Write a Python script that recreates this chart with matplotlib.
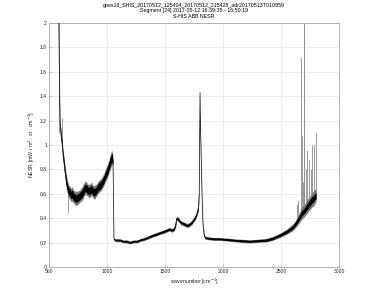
import matplotlib
matplotlib.use("Agg")
import matplotlib.pyplot as plt

plt.rcParams['font.family'] = ['Liberation Sans', 'DejaVu Sans']

# ---- data ----
title_lines = ["goes16_SHIS_20170512_125404_20170512_215428_adr20170513T010959",
               "Segment [24] 2017-05-12 16:39:35 - 16:50:19",
               "S-HIS ABB NESR"]

# band 1 (longwave)
b1_wn    = [584, 588, 592, 596, 600, 606, 612, 618, 623, 630, 638, 645, 649, 655, 662, 670, 680, 690, 698, 710,
            720, 730, 741, 752, 763, 773, 784, 795, 805, 813, 825, 835, 846, 856, 868, 878, 889, 899, 910, 920,
            931, 942, 953, 963, 975, 985, 995, 1005, 1015, 1025, 1031, 1037, 1043, 1048, 1051]
b1_mid   = [2.05, 1.70, 1.35, 1.18, 1.12, 1.06, 1.02, 0.95, 0.90, 0.85, 0.78, 0.73, 0.70, 0.67, 0.64, 0.62, 0.61, 0.59, 0.60, 0.58,
            0.57, 0.56, 0.565, 0.57, 0.58, 0.59, 0.60, 0.62, 0.64, 0.65, 0.64, 0.63, 0.62, 0.63, 0.64, 0.62, 0.61, 0.62, 0.63, 0.65,
            0.66, 0.67, 0.68, 0.70, 0.72, 0.75, 0.77, 0.79, 0.82, 0.85, 0.87, 0.89, 0.90, 0.88, 0.86]
b1_core  = [0.00, 0.015, 0.02, 0.02, 0.02, 0.02, 0.02, 0.022, 0.025, 0.025, 0.025, 0.025, 0.028, 0.028, 0.03, 0.03, 0.032, 0.03, 0.032, 0.03,
            0.032, 0.03, 0.032, 0.032, 0.03, 0.032, 0.03, 0.032, 0.03, 0.03, 0.032, 0.03, 0.03, 0.032, 0.03, 0.03, 0.032, 0.03, 0.03, 0.03,
            0.03, 0.03, 0.03, 0.03, 0.03, 0.03, 0.03, 0.032, 0.032, 0.035, 0.035, 0.035, 0.035, 0.03, 0.02]
b1_outer = [0.00, 0.03, 0.035, 0.035, 0.035, 0.035, 0.035, 0.04, 0.045, 0.045, 0.045, 0.05, 0.055, 0.055, 0.055, 0.05, 0.055, 0.055, 0.06, 0.055,
            0.055, 0.06, 0.055, 0.055, 0.05, 0.055, 0.055, 0.06, 0.055, 0.055, 0.055, 0.05, 0.055, 0.055, 0.055, 0.05, 0.055, 0.055, 0.05, 0.05,
            0.05, 0.05, 0.05, 0.05, 0.05, 0.05, 0.055, 0.055, 0.055, 0.06, 0.06, 0.06, 0.055, 0.045, 0.03]

# bands 2 and 3 (mid / shortwave)
b2_wn    = [1052, 1060, 1069, 1090, 1112, 1140, 1170, 1198, 1230, 1260, 1284, 1320, 1350, 1371, 1400, 1430, 1457, 1490, 1514,
            1540, 1558, 1578, 1590, 1601, 1615, 1630, 1644, 1670, 1690, 1715, 1735, 1758, 1772, 1787, 1795, 1802, 1806, 1810,
            1815, 1819, 1827, 1836, 1845, 1880, 1920, 1974, 2030, 2086, 2150, 2233, 2300, 2377, 2430, 2491, 2520, 2549, 2580,
            2606, 2630, 2646, 2662, 2678, 2700, 2721, 2745, 2765, 2780, 2793, 2802]
b2_mid   = [0.86, 0.23, 0.22, 0.22, 0.22, 0.21, 0.21, 0.20, 0.21, 0.21, 0.22, 0.23, 0.24, 0.25, 0.26, 0.27, 0.28, 0.29, 0.30,
            0.31, 0.30, 0.31, 0.34, 0.40, 0.39, 0.37, 0.36, 0.35, 0.34, 0.35, 0.37, 0.40, 0.43, 0.48, 0.60, 1.43, 1.15, 0.99,
            0.78, 0.60, 0.36, 0.27, 0.24, 0.235, 0.23, 0.23, 0.225, 0.22, 0.215, 0.21, 0.215, 0.22, 0.235, 0.26, 0.275, 0.29, 0.31,
            0.33, 0.36, 0.385, 0.41, 0.44, 0.46, 0.49, 0.52, 0.55, 0.56, 0.58, 0.58]
b2_core  = [0.00, 0.006, 0.006, 0.007, 0.006, 0.006, 0.007, 0.006, 0.006, 0.006, 0.006, 0.006, 0.007, 0.007, 0.007, 0.007, 0.007, 0.008, 0.008,
            0.008, 0.008, 0.008, 0.008, 0.009, 0.009, 0.009, 0.009, 0.009, 0.009, 0.009, 0.01, 0.01, 0.01, 0.012, 0.012, 0.00, 0.006, 0.006,
            0.006, 0.006, 0.007, 0.007, 0.007, 0.007, 0.007, 0.007, 0.007, 0.007, 0.008, 0.008, 0.008, 0.009, 0.01, 0.01, 0.011, 0.012, 0.013,
            0.015, 0.017, 0.018, 0.02, 0.022, 0.022, 0.025, 0.025, 0.027, 0.027, 0.027, 0.02]
b2_outer = [0.00, 0.012, 0.012, 0.013, 0.012, 0.012, 0.013, 0.012, 0.012, 0.013, 0.012, 0.013, 0.013, 0.013, 0.014, 0.014, 0.014, 0.015, 0.015,
            0.015, 0.015, 0.015, 0.015, 0.017, 0.017, 0.017, 0.017, 0.017, 0.017, 0.017, 0.018, 0.018, 0.018, 0.02, 0.02, 0.00, 0.01, 0.01,
            0.01, 0.01, 0.012, 0.012, 0.012, 0.012, 0.012, 0.012, 0.012, 0.012, 0.013, 0.013, 0.013, 0.015, 0.016, 0.018, 0.02, 0.022, 0.025,
            0.028, 0.032, 0.036, 0.042, 0.05, 0.05, 0.055, 0.055, 0.06, 0.06, 0.06, 0.045]

# isolated spikes (wavenumber, top, bottom)
spike_wn  = [584, 609, 664, 2635, 2650, 2672, 2678, 2690, 2698, 2701, 2712, 2727, 2744, 2755, 2764, 2784, 2801]
spike_top = [2.05, 1.22, 0.63, 0.52, 0.55, 1.72, 1.07, 0.70, 2.05, 2.05, 0.80, 0.96, 0.88, 0.80, 1.00, 1.00, 1.10]
spike_bot = [1.10, 1.00, 0.44, 0.36, 0.37, 0.42, 0.42, 0.42, 0.43, 0.43, 0.44, 0.47, 0.49, 0.50, 0.52, 0.54, 0.56]

xticks = [500, 1000, 1500, 2000, 2500, 3000]
yticks = [0, 0.2, 0.4, 0.6, 0.8, 1, 1.2, 1.4, 1.6, 1.8, 2]
ytick_labels = ["0", "0.2", "0.4", "0.6", "0.8", "1", "1.2", "1.4", "1.6", "1.8", "2"]

# ---- figure ----
W, H = 375, 301
fig = plt.figure(figsize=(W / 100, H / 100), dpi=100)
ax = fig.add_axes([49 / W, 1 - 267 / H, 290 / W, 244 / H])

axis_gray = '#a6a6a6'
txt_gray = '#262626'

for wn, mid, core, outer in [(b1_wn, b1_mid, b1_core, b1_outer), (b2_wn, b2_mid, b2_core, b2_outer)]:
    lo_o = [m - o for m, o in zip(mid, outer)]
    hi_o = [m + o for m, o in zip(mid, outer)]
    lo_c = [m - c for m, c in zip(mid, core)]
    hi_c = [m + c for m, c in zip(mid, core)]
    ax.fill_between(wn, lo_o, hi_o, color='#7a7a7a', linewidth=0, zorder=2)
    ax.fill_between(wn, lo_c, hi_c, color='black', linewidth=0, zorder=3)
    ax.plot(wn, mid, color='black', linewidth=0.5, zorder=4)

ax.vlines(spike_wn, spike_bot, spike_top, colors='#8c8c8c', linewidth=0.6, zorder=1)

ax.set_xlim(500, 3000)
ax.set_ylim(0, 2)
ax.set_xticks(xticks)
ax.set_xticklabels([str(t) for t in xticks])
ax.set_yticks(yticks)
ax.set_yticklabels(ytick_labels)

ax.grid(True, color='#e4e4e4', linewidth=0.5, zorder=0)
ax.set_axisbelow(True)
for s in ax.spines.values():
    s.set_color(axis_gray)
    s.set_linewidth(0.6)
ax.tick_params(direction='in', length=2, width=0.4, color=axis_gray,
               labelsize=3.6, labelcolor=txt_gray, pad=1.5, top=False, right=False)

ax.set_xlabel('wavenumber [cm$^{-1}$]', fontsize=3.8, color=txt_gray, labelpad=2)
ax.set_ylabel('NESR [mW / m$^2$ . sr . cm$^{-1}$]', fontsize=3.8, color=txt_gray, labelpad=2)

cx = (49 + 339) / 2 / W
for line, ypx in zip(title_lines, [5, 10.7, 16]):
    fig.text(cx, 1 - ypx / H, line, ha='center', va='center', fontsize=3.8, color='black')

fig.savefig('out.png', dpi=100)
